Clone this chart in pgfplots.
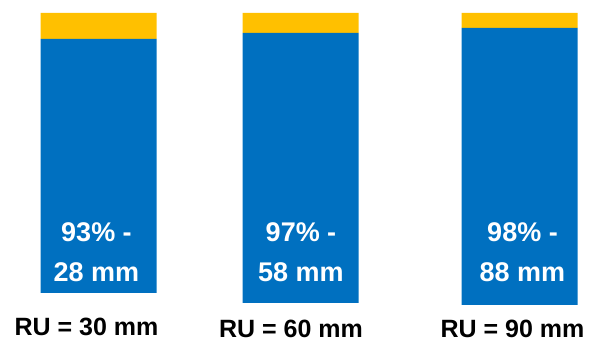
\documentclass[border=0pt]{standalone}
\usepackage{pgfplots}
\pgfplotsset{compat=1.18}
\usepackage{fontspec}
\setmainfont{Liberation Sans}
\definecolor{barblue}{HTML}{0070C0}
\definecolor{baryellow}{HTML}{FFC000}
\begin{document}
\begin{tikzpicture}
\useasboundingbox (0,0) rectangle (601pt,342pt);
\clip (0,0) rectangle (601pt,342pt);
\begin{axis}[
  scale only axis, width=601pt, height=342pt,
  xmin=0, xmax=601, ymin=0, ymax=342,
  hide axis,
  ybar stacked, bar width=116,
]
% invisible base (bars float above the bottom)
\addplot[draw=none, fill=none] coordinates {(98.5,49) (300.5,39) (519.5,37)};
\addplot[draw=none, fill=barblue] coordinates {(98.5,254) (300.5,270) (519.5,277)};
\addplot[draw=none, fill=baryellow] coordinates {(98.5,26) (300.5,20) (519.5,15)};
\end{axis}
\begin{scope}[every node/.style={font=\fontsize{27}{40}\selectfont\bfseries, align=center}]
\node[white] at (96.5pt,90pt) {93\% -\\28 mm};
\node[white] at (301pt,90pt) {97\% -\\58 mm};
\node[white] at (522.5pt,90pt) {98\% -\\88 mm};
\end{scope}
\begin{scope}[every node/.style={font=\fontsize{25}{30}\selectfont\bfseries, inner sep=0pt}]
\node[anchor=base] at (86.5pt,6pt) {RU = 30 mm};
\node[anchor=base] at (291pt,5pt) {RU = 60 mm};
\node[anchor=base] at (512.5pt,4.5pt) {RU = 90 mm};
\end{scope}
\end{tikzpicture}
\end{document}
